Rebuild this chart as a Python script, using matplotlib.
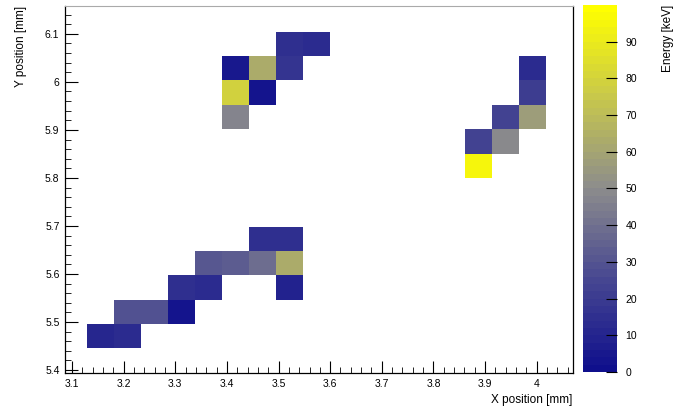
import numpy as np
import matplotlib
matplotlib.use("Agg")
import matplotlib.pyplot as plt
from matplotlib.colors import LinearSegmentedColormap
from matplotlib.ticker import MultipleLocator

plt.rcParams['font.family'] = ['Liberation Sans', 'DejaVu Sans']

# pixel hits: centre position [mm] and deposited energy [keV]
x_mm = [3.156, 3.208,
        3.208, 3.260, 3.313,
        3.313, 3.365, 3.522,
        3.365, 3.417, 3.470, 3.522,
        3.470, 3.522,
        3.522, 3.574,
        3.417, 3.470, 3.522,
        3.417, 3.470,
        3.417,
        3.993, 3.993, 3.993,
        3.940, 3.940,
        3.888, 3.888]
y_mm = [5.471, 5.471,
        5.521, 5.521, 5.521,
        5.572, 5.572, 5.572,
        5.623, 5.623, 5.623, 5.623,
        5.673, 5.673,
        6.079, 6.079,
        6.028, 6.028, 6.028,
        5.978, 5.978,
        5.927,
        6.028, 5.978, 5.927,
        5.927, 5.876,
        5.876, 5.826]
energy = [10, 12,
          28, 28, 3,
          15, 12, 8,
          30, 32, 38, 62,
          14, 14,
          14, 12,
          5, 62, 17,
          78, 3,
          47,
          13, 20, 57,
          22, 48,
          22, 95]

# binning of the detector grid
x_start, x_pitch, nx = 3.1296, 0.0523, 17
y_start, y_pitch, ny = 5.4452, 0.0507, 13
x_edges = x_start + x_pitch * np.arange(nx + 1)
y_edges = y_start + y_pitch * np.arange(ny + 1)

cmap = LinearSegmentedColormap.from_list(
    "blue_gray_yellow",
    [(0.0, (0.06, 0.06, 0.55)),
     (0.25, (0.28, 0.28, 0.57)),
     (0.5, (0.55, 0.55, 0.55)),
     (0.75, (0.78, 0.78, 0.30)),
     (1.0, (1.0, 1.0, 0.0))], N=50)

fig = plt.figure(figsize=(6.78, 4.11), dpi=100)
ax = fig.add_axes([0.0959, 0.0925, 0.749, 0.893])
cax = fig.add_axes([0.860, 0.0949, 0.050, 0.893])

h = ax.hist2d(x_mm, y_mm, bins=[x_edges, y_edges], weights=energy,
              cmap=cmap, vmin=0, vmax=100, cmin=1e-6)

ax.set_xlim(3.0865, 4.07)
ax.set_ylim(5.394, 6.158)
ax.xaxis.set_minor_locator(MultipleLocator(0.02))
ax.yaxis.set_minor_locator(MultipleLocator(0.02))
ax.set_xticks(np.arange(3.1, 4.05, 0.1))
ax.set_xticklabels(["3.1", "3.2", "3.3", "3.4", "3.5", "3.6", "3.7", "3.8", "3.9", "4"])
ax.set_yticks(np.arange(5.4, 6.15, 0.1))
ax.set_yticklabels(["5.4", "5.5", "5.6", "5.7", "5.8", "5.9", "6", "6.1"])
ax.tick_params(which='major', direction='in', length=9, width=0.8, labelsize=7.5, pad=4)
ax.tick_params(which='minor', direction='in', length=4.5, width=0.6)
ax.spines['top'].set_color('#aaaaaa')
for s in ['left', 'bottom', 'right']:
    ax.spines[s].set_linewidth(0.9)

ax.set_xlabel("X position [mm]", fontsize=8.5, loc='right', labelpad=4)
ax.set_ylabel("Y position [mm]", fontsize=8.5, loc='top', labelpad=13)

cb = fig.colorbar(h[3], cax=cax)
cb.set_ticks(np.arange(0, 100, 10))
cb.outline.set_visible(False)
cax.tick_params(direction='in', length=8, width=0.8, labelsize=7.5, pad=6)
cb.set_label("Energy [keV]", fontsize=8.5, loc='top', labelpad=18)

fig.savefig("out.png", dpi=100)
